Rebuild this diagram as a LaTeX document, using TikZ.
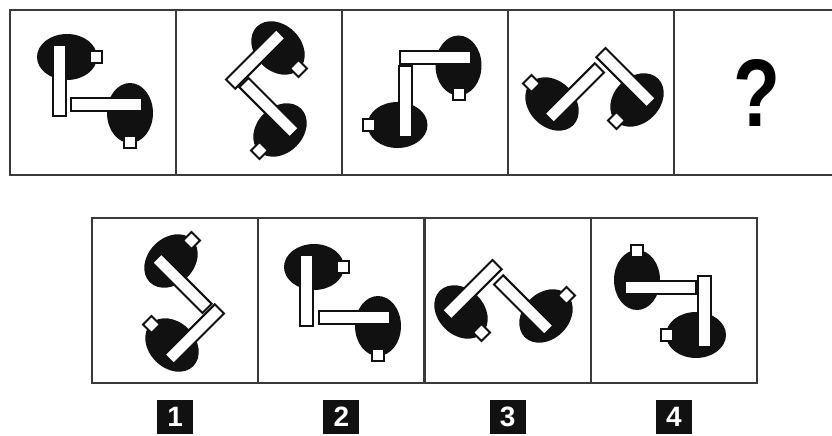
\documentclass[tikz,border=0pt]{standalone}
\usepackage{fontspec}
\setmainfont{Liberation Sans}
\usetikzlibrary{positioning}
\definecolor{cFrame}{HTML}{3A3A3A}
\definecolor{cInk}{HTML}{111111}
\tikzset{
  cell/.style={draw=cFrame, line width=2pt, minimum width=166pt, minimum height=165pt, inner sep=0pt},
  tag/.style={fill=cInk, text=white, font=\fontsize{28}{28}\selectfont\bfseries,
    minimum width=36pt, minimum height=34pt, inner sep=0pt},
  part/.style={draw=cInk, fill=white, line width=2pt},
}
% one arm: black oval, white knob, white bar (x, y, angle, +1/-1 for mirror)
\newcommand{\drawarm}[4]{%
  \begin{scope}[shift={(#1,#2)}, rotate=#3, yscale=#4]
    \fill[cInk] (0,0) ellipse [x radius=23, y radius=30];
    \draw[part] (-6,23) rectangle (6,35);
    \draw[part] (-12,-14.5) rectangle (59,-1.5);
  \end{scope}}

\begin{document}
\begin{tikzpicture}[x=1pt, y=1pt]
  \clip (0,0) rectangle (832,436);

  % ---------- sequence ----------
  \foreach \i/\cx in {1/93, 2/259, 3/425, 4/591, 5/757}
    \node[cell] (t\i) at (\cx,343.5) {};
  \node[font=\fontsize{96}{96}\selectfont\bfseries, xscale=0.8] (ask) at (t5) {?};

  % ---------- answers ----------
  \foreach \i/\cx in {1/175.1, 2/341.4, 3/507.6, 4/673.9} {
    \node[cell] (a\i) at (\cx,135.5) {};
    \node[tag, below=16pt of a\i] (n\i) {\i};
  }

  % ---------- arms ----------
  \foreach \x/\y/\a/\s in {67/379/270/1, 130/323/180/1,
                           278/388/225/1, 280/306/135/1,
                           458.5/370.5/180/1, 397.5/311/90/1,
                           552/332/45/1, 637/336/135/1,
                           171/175/315/1, 172/91/45/1,
                           314/169/270/1, 378/110/180/1,
                           461/124/45/-1, 546/120/135/-1,
                           637/156/0/1, 696/101/90/1}
    \drawarm{\x}{\y}{\a}{\s};

\end{tikzpicture}
\end{document}
